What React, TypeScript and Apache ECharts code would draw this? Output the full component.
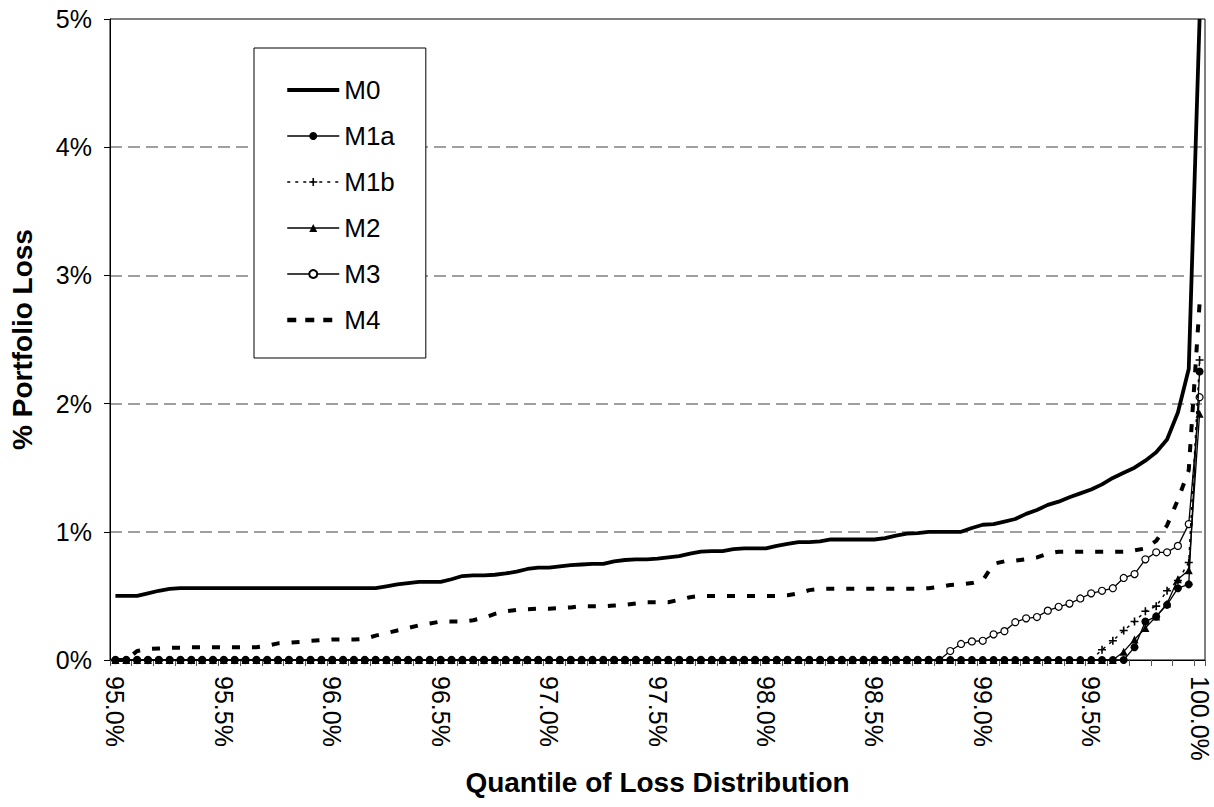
import React, { useEffect, useRef } from "react";
import * as echarts from "echarts";

const QUANTILES = [
  "95.00", "95.05", "95.10", "95.15", "95.20", "95.25", "95.30", "95.35", "95.40", "95.45",
  "95.50", "95.55", "95.60", "95.65", "95.70", "95.75", "95.80", "95.85", "95.90", "95.95",
  "96.00", "96.05", "96.10", "96.15", "96.20", "96.25", "96.30", "96.35", "96.40", "96.45",
  "96.50", "96.55", "96.60", "96.65", "96.70", "96.75", "96.80", "96.85", "96.90", "96.95",
  "97.00", "97.05", "97.10", "97.15", "97.20", "97.25", "97.30", "97.35", "97.40", "97.45",
  "97.50", "97.55", "97.60", "97.65", "97.70", "97.75", "97.80", "97.85", "97.90", "97.95",
  "98.00", "98.05", "98.10", "98.15", "98.20", "98.25", "98.30", "98.35", "98.40", "98.45",
  "98.50", "98.55", "98.60", "98.65", "98.70", "98.75", "98.80", "98.85", "98.90", "98.95",
  "99.00", "99.05", "99.10", "99.15", "99.20", "99.25", "99.30", "99.35", "99.40", "99.45",
  "99.50", "99.55", "99.60", "99.65", "99.70", "99.75", "99.80", "99.85", "99.90", "99.95",
  "100.00",
];

const Y_TICKS = [0, 1, 2, 3, 4, 5];

const M0 = [
  0.50, 0.50, 0.50, 0.52, 0.54, 0.555, 0.56, 0.56, 0.56, 0.56,
  0.56, 0.56, 0.56, 0.56, 0.56, 0.56, 0.56, 0.56, 0.56, 0.56,
  0.56, 0.56, 0.56, 0.56, 0.56, 0.575, 0.59, 0.60, 0.61, 0.61,
  0.61, 0.63, 0.655, 0.66, 0.66, 0.665, 0.675, 0.69, 0.71, 0.72,
  0.72, 0.73, 0.74, 0.745, 0.75, 0.75, 0.77, 0.78, 0.785, 0.785,
  0.79, 0.80, 0.81, 0.83, 0.845, 0.85, 0.85, 0.865, 0.87, 0.87,
  0.87, 0.89, 0.905, 0.92, 0.92, 0.925, 0.94, 0.94, 0.94, 0.94,
  0.94, 0.95, 0.97, 0.985, 0.99, 1.00, 1.00, 1.00, 1.00, 1.03,
  1.055, 1.06, 1.08, 1.10, 1.14, 1.17, 1.21, 1.235, 1.27, 1.30,
  1.33, 1.37, 1.42, 1.46, 1.50, 1.555, 1.62, 1.72, 1.93, 2.27,
  5.0,
];

const M1A = [
  0, 0, 0, 0, 0, 0, 0, 0, 0, 0,
  0, 0, 0, 0, 0, 0, 0, 0, 0, 0,
  0, 0, 0, 0, 0, 0, 0, 0, 0, 0,
  0, 0, 0, 0, 0, 0, 0, 0, 0, 0,
  0, 0, 0, 0, 0, 0, 0, 0, 0, 0,
  0, 0, 0, 0, 0, 0, 0, 0, 0, 0,
  0, 0, 0, 0, 0, 0, 0, 0, 0, 0,
  0, 0, 0, 0, 0, 0, 0, 0, 0, 0,
  0, 0, 0, 0, 0, 0, 0, 0, 0, 0,
  0, 0, 0, 0, 0.10, 0.30, 0.34, 0.43, 0.56, 0.59,
  2.25,
];

const M1B = [
  0, 0, 0, 0, 0, 0, 0, 0, 0, 0,
  0, 0, 0, 0, 0, 0, 0, 0, 0, 0,
  0, 0, 0, 0, 0, 0, 0, 0, 0, 0,
  0, 0, 0, 0, 0, 0, 0, 0, 0, 0,
  0, 0, 0, 0, 0, 0, 0, 0, 0, 0,
  0, 0, 0, 0, 0, 0, 0, 0, 0, 0,
  0, 0, 0, 0, 0, 0, 0, 0, 0, 0,
  0, 0, 0, 0, 0, 0, 0, 0, 0, 0,
  0, 0, 0, 0, 0, 0, 0, 0, 0, 0,
  0, 0.08, 0.15, 0.23, 0.30, 0.38, 0.42, 0.54, 0.62, 0.76,
  2.34,
];

const M2 = [
  0, 0, 0, 0, 0, 0, 0, 0, 0, 0,
  0, 0, 0, 0, 0, 0, 0, 0, 0, 0,
  0, 0, 0, 0, 0, 0, 0, 0, 0, 0,
  0, 0, 0, 0, 0, 0, 0, 0, 0, 0,
  0, 0, 0, 0, 0, 0, 0, 0, 0, 0,
  0, 0, 0, 0, 0, 0, 0, 0, 0, 0,
  0, 0, 0, 0, 0, 0, 0, 0, 0, 0,
  0, 0, 0, 0, 0, 0, 0, 0, 0, 0,
  0, 0, 0, 0, 0, 0, 0, 0, 0, 0,
  0, 0, 0, 0.065, 0.16, 0.25, 0.34, 0.44, 0.63, 0.70,
  1.92,
];

const M3 = [
  0, 0, 0, 0, 0, 0, 0, 0, 0, 0,
  0, 0, 0, 0, 0, 0, 0, 0, 0, 0,
  0, 0, 0, 0, 0, 0, 0, 0, 0, 0,
  0, 0, 0, 0, 0, 0, 0, 0, 0, 0,
  0, 0, 0, 0, 0, 0, 0, 0, 0, 0,
  0, 0, 0, 0, 0, 0, 0, 0, 0, 0,
  0, 0, 0, 0, 0, 0, 0, 0, 0, 0,
  0, 0, 0, 0, 0, 0, 0, 0.07, 0.125, 0.145,
  0.15, 0.20, 0.225, 0.295, 0.325, 0.335, 0.385, 0.415, 0.44, 0.48,
  0.52, 0.54, 0.56, 0.64, 0.67, 0.785, 0.84, 0.84, 0.89, 1.06,
  2.05,
];

const M4 = [
  0, 0, 0.07, 0.085, 0.09, 0.095, 0.095, 0.10, 0.10, 0.10,
  0.10, 0.10, 0.10, 0.10, 0.11, 0.13, 0.135, 0.14, 0.15, 0.155,
  0.16, 0.16, 0.16, 0.165, 0.19, 0.21, 0.23, 0.25, 0.27, 0.285,
  0.30, 0.30, 0.30, 0.31, 0.33, 0.36, 0.38, 0.39, 0.395, 0.40,
  0.40, 0.405, 0.41, 0.42, 0.42, 0.42, 0.425, 0.43, 0.44, 0.45,
  0.45, 0.45, 0.47, 0.49, 0.50, 0.50, 0.50, 0.50, 0.50, 0.50,
  0.50, 0.50, 0.505, 0.52, 0.545, 0.555, 0.555, 0.555, 0.555, 0.555,
  0.555, 0.555, 0.555, 0.555, 0.555, 0.56, 0.57, 0.585, 0.59, 0.60,
  0.62, 0.75, 0.77, 0.775, 0.785, 0.80, 0.83, 0.845, 0.845, 0.845,
  0.845, 0.845, 0.845, 0.845, 0.855, 0.87, 0.93, 1.05, 1.25, 1.48,
  2.78,
];

const PLUS = "path://M4,0H6V4H10V6H6V10H4V6H0V4H4Z";

export default function App() {
  const ref = useRef<HTMLDivElement>(null);

  useEffect(() => {
    const chart = echarts.init(ref.current as HTMLDivElement, null, { renderer: "svg" });
    const font = "'Liberation Sans', Arial, sans-serif";

    const base = {
      type: "line",
      showAllSymbol: true,
      clip: false,
      silent: true,
    };

    const noMarker = {
      color: "rgba(0,0,0,0)",
      borderColor: "rgba(0,0,0,0)",
      borderWidth: 0,
      opacity: 0,
    };

    chart.setOption({
      animation: false,
      backgroundColor: "#fff",
      textStyle: { fontFamily: font, color: "#000" },
      grid: {
        left: 106,
        right: 9,
        top: 19,
        bottom: 147,
        show: true,
        borderColor: "#000",
        borderWidth: 1,
        backgroundColor: "transparent",
      },
      legend: {
        orient: "vertical",
        left: 254,
        top: 48,
        padding: [29, 31, 25, 31],
        itemGap: 20,
        itemWidth: 52,
        itemHeight: 10,
        backgroundColor: "#fff",
        borderColor: "#000",
        borderWidth: 1,
        borderRadius: 0,
        selectedMode: false,
        textStyle: { fontSize: 26, color: "#000", fontFamily: font, lineHeight: 26 },
        data: [
          { name: "M0", itemStyle: noMarker, lineStyle: { color: "#000", width: 4, type: "solid" } },
          { name: "M1a", lineStyle: { color: "#000", width: 1.5 } },
          { name: "M1b", lineStyle: { color: "#000", width: 1.5, type: [3, 5] } },
          { name: "M2", lineStyle: { color: "#000", width: 1.5 } },
          { name: "M3", lineStyle: { color: "#000", width: 1.5 } },
          { name: "M4", itemStyle: noMarker, lineStyle: { color: "#000", width: 4.5, type: [9, 9] } },
        ],
      },
      xAxis: {
        type: "category",
        data: QUANTILES,
        boundaryGap: true,
        axisLine: { show: true, lineStyle: { color: "#000", width: 1 } },
        axisTick: { show: true, interval: 1, length: 6, lineStyle: { color: "#555", width: 1 } },
        axisLabel: {
          interval: 9,
          rotate: -90,
          margin: 16,
          fontSize: 25,
          color: "#000",
          fontFamily: font,
          formatter: (v: string) => parseFloat(v).toFixed(1) + "%",
        },
        splitLine: { show: false },
        name: "Quantile of Loss Distribution",
        nameLocation: "middle",
        nameGap: 106,
        nameTextStyle: { fontSize: 28, fontWeight: "bold", color: "#000", fontFamily: font },
      },
      yAxis: {
        type: "value",
        min: Y_TICKS[0],
        max: Y_TICKS[Y_TICKS.length - 1],
        interval: 1,
        axisLine: { show: true, lineStyle: { color: "#000", width: 1 } },
        axisTick: { show: true, length: 6, lineStyle: { color: "#000", width: 1 } },
        axisLabel: {
          margin: 18,
          fontSize: 25,
          color: "#000",
          fontFamily: font,
          formatter: (v: number) => v + "%",
        },
        splitLine: {
          show: true,
          showMinLine: false,
          showMaxLine: false,
          lineStyle: { color: "#808080", width: 1.5, type: [12, 6] },
        },
        name: "% Portfolio Loss",
        nameLocation: "middle",
        nameGap: 74,
        nameTextStyle: { fontSize: 28, fontWeight: "bold", color: "#000", fontFamily: font },
      },
      series: [
        {
          ...base,
          name: "M0",
          data: M0,
          symbol: "none",
          z: 2,
          lineStyle: { color: "#000", width: 3.8, cap: "butt" },
          itemStyle: { color: "#000" },
        },
        {
          ...base,
          name: "M1a",
          data: M1A,
          symbol: "circle",
          symbolSize: 8,
          z: 7,
          lineStyle: { color: "#000", width: 1.3 },
          itemStyle: { color: "#000" },
        },
        {
          ...base,
          name: "M1b",
          data: M1B,
          symbol: PLUS,
          symbolSize: 8,
          z: 4,
          lineStyle: { color: "#000", width: 1.5, type: [3, 5] },
          itemStyle: { color: "#000" },
        },
        {
          ...base,
          name: "M2",
          data: M2,
          symbol: "triangle",
          symbolSize: 8,
          z: 5,
          lineStyle: { color: "#000", width: 1.3 },
          itemStyle: { color: "#000" },
        },
        {
          ...base,
          name: "M3",
          data: M3,
          symbol: "circle",
          symbolSize: 7,
          z: 3,
          lineStyle: { color: "#000", width: 1.3 },
          itemStyle: { color: "#fff", borderColor: "#000", borderWidth: 1.2 },
        },
        {
          ...base,
          name: "M4",
          data: M4,
          symbol: "none",
          z: 2,
          lineStyle: { color: "#000", width: 4, type: [8, 12], cap: "butt" },
          itemStyle: { color: "#000" },
        },
      ],
    });

    return () => chart.dispose();
  }, []);

  return (
    <div
      ref={ref}
      style={{ position: "fixed", left: 0, top: 0, width: 1214, height: 807, background: "#fff" }}
    />
  );
}
